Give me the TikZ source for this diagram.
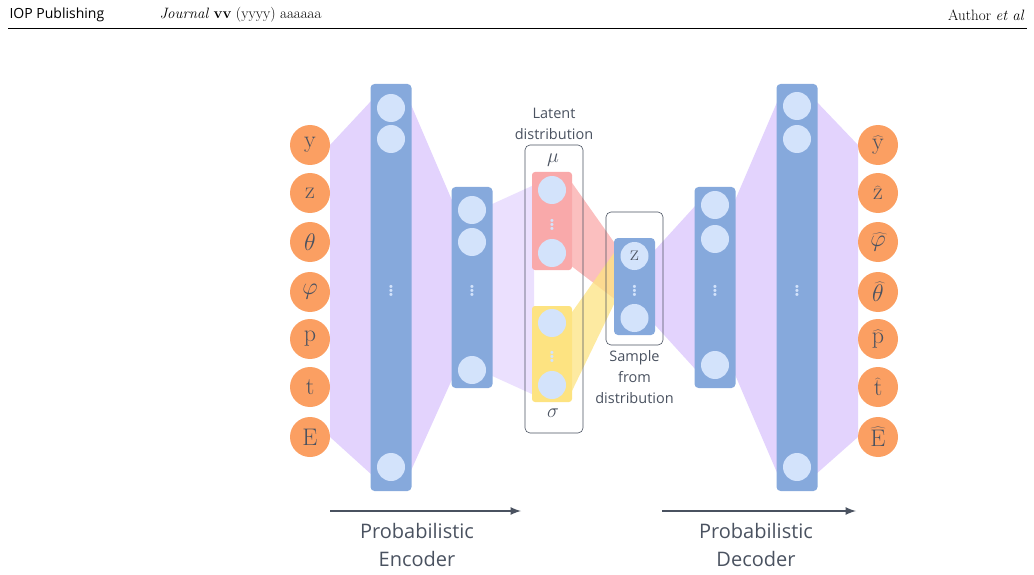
\documentclass[tikz,border=0pt]{standalone}
\usepackage{fix-cm}
\usepackage{fontspec}
\setsansfont{Open Sans}
\usetikzlibrary{positioning}
\definecolor{inorange}{HTML}{FB9F62}
\definecolor{layblue}{HTML}{86A9DC}
\definecolor{neuron}{HTML}{D3E3FB}
\definecolor{band}{HTML}{E3D3FD}
\definecolor{mured}{HTML}{F9A9AA}
\definecolor{sigyel}{HTML}{FDE381}
\definecolor{txt}{HTML}{4A5260}
\begin{document}
\begin{tikzpicture}[x=1pt,y=-1pt,
  var/.style={circle, fill=inorange, minimum size=40pt, inner sep=0pt, text=txt, font=\fontsize{24}{24}\selectfont},
  layer/.style={rectangle, rounded corners=4pt, fill=layblue, minimum width=41pt, inner sep=0pt},
  unit/.style={circle, fill=neuron, minimum size=28pt, inner sep=0pt, text=txt, font=\fontsize{22}{22}\selectfont},
  lab/.style={text=txt, font=\sffamily\fontsize{14.5}{21}\selectfont, align=center},
  big/.style={text=txt, font=\sffamily\fontsize{20}{28}\selectfont, align=center},
  dots/.style={text=neuron, font=\bfseries\fontsize{22}{22}\selectfont},
  frame/.style={draw=txt, rounded corners=5pt, line width=0.6pt},
  flow/.style={draw=txt, line width=2.5pt, -latex}]
\useasboundingbox (0,0) rectangle (1034,575);
% header
\node[anchor=west, font=\sffamily\fontsize{14}{14}\selectfont] (iop) at (6,15) {IOP Publishing};
\node[anchor=west, font=\fontsize{15}{15}\selectfont] (jour) at (156,15) {\textit{Journal} \textbf{vv} (yyyy) aaaaaa};
\node[anchor=east, font=\fontsize{15}{15}\selectfont] (auth) at (1028,15) {Author \textit{et al}};
\draw[line width=0.4pt] (8,28) -- (1027,28);
% bands
\fill[band] (330,145) -- (372,100) -- (372,475) -- (330,437) -- cycle;
\fill[band] (409,100) -- (454,205) -- (454,375) -- (409,475) -- cycle;
\fill[band, opacity=0.7] (490,205) -- (534,185) -- (534,395) -- (490,375) -- cycle;
\fill[band] (655,250) -- (696,205) -- (696,370) -- (655,325) -- cycle;
\fill[band] (733,205) -- (778,100) -- (778,475) -- (733,370) -- cycle;
\fill[band] (815,100) -- (858,145) -- (858,437) -- (815,475) -- cycle;
\fill[mured, opacity=0.75] (570,180) -- (616,245) -- (616,300) -- (570,265) -- cycle;
\fill[sigyel, opacity=0.75] (570,315) -- (616,250) -- (616,300) -- (570,395) -- cycle;
% encoder
\node[layer, minimum height=407pt] (enc1) at (391,287.5) {};
\node[layer, minimum height=201pt] (enc2) at (472,287.5) {};
\foreach \y/\n in {108/a,139/b,467/c} \node[unit] (e1\n) at (391,\y) {};
\foreach \y/\n in {210/a,242/b,370/c} \node[unit] (e2\n) at (472,\y) {};
\node[dots] (e1d) at (391,288) {$\vdots$};
\node[dots] (e2d) at (472,288) {$\vdots$};
\foreach \y/\s [count=\i] in {145/y,193/z,242/\theta,292/\varphi,339/p,387/t,437/E}
  \node[var] (in\i) at (310,\y) {$\mathrm{\s}$};
% latent
\node[frame, minimum width=58pt, minimum height=288pt] (latbox) at (554,289) {};
\node[lab, above=2pt of latbox] (latlab) {Latent\\distribution};
\node[text=txt, font=\fontsize{20}{20}\selectfont] (mu) at (553,160) {$\mu$};
\node[text=txt, font=\fontsize{20}{20}\selectfont] (sig) at (553,413) {$\sigma$};
\node[rectangle, rounded corners=3pt, fill=mured, minimum width=40pt, minimum height=98pt] (murect) at (552,221) {};
\node[rectangle, rounded corners=3pt, fill=sigyel, minimum width=40pt, minimum height=96pt] (sigrect) at (552,354) {};
\node[unit] (mua) at (552,190) {};
\node[unit] (mub) at (552,253) {};
\node[dots] (mud) at (552,222) {$\vdots$};
\node[unit] (siga) at (552,323) {};
\node[unit] (sigb) at (552,385) {};
\node[dots] (sigd) at (552,354) {$\vdots$};
% sample
\node[frame, minimum width=57pt, minimum height=133pt] (zbox) at (634.5,278.5) {};
\node[layer, minimum height=97pt] (zrect) at (634.5,286.5) {};
\node[unit] (za) at (634.5,256) {$\mathrm{z}$};
\node[unit] (zb) at (634.5,318) {};
\node[dots] (zd) at (634.5,288) {$\vdots$};
\node[lab, below=2pt of zbox] (samp) {Sample\\from\\distribution};
% decoder
\node[layer, minimum height=201pt] (dec1) at (715,287.5) {};
\node[layer, minimum height=407pt] (dec2) at (797,287.5) {};
\foreach \y/\n in {205/a,239/b,365/c} \node[unit] (d1\n) at (715,\y) {};
\foreach \y/\n in {106/a,139/b,467/c} \node[unit] (d2\n) at (797,\y) {};
\node[dots] (d1d) at (715,288) {$\vdots$};
\node[dots] (d2d) at (797,288) {$\vdots$};
\foreach \y/\s [count=\i] in {145/y,193/z,242/\varphi,292/\theta,339/p,387/t,437/E}
  \node[var] (out\i) at (878,\y) {$\widehat{\mathrm{\s}}$};
% arrows
\coordinate (ea) at (330,511);
\coordinate (eb) at (521,511);
\coordinate (da) at (662,511);
\coordinate (db) at (856,511);
\draw[flow] (ea) -- (eb);
\draw[flow] (da) -- (db);
\node[big] (enclab) at (417,545) {Probabilistic\\Encoder};
\node[big] (declab) at (756,545) {Probabilistic\\Decoder};
\end{tikzpicture}
\end{document}
